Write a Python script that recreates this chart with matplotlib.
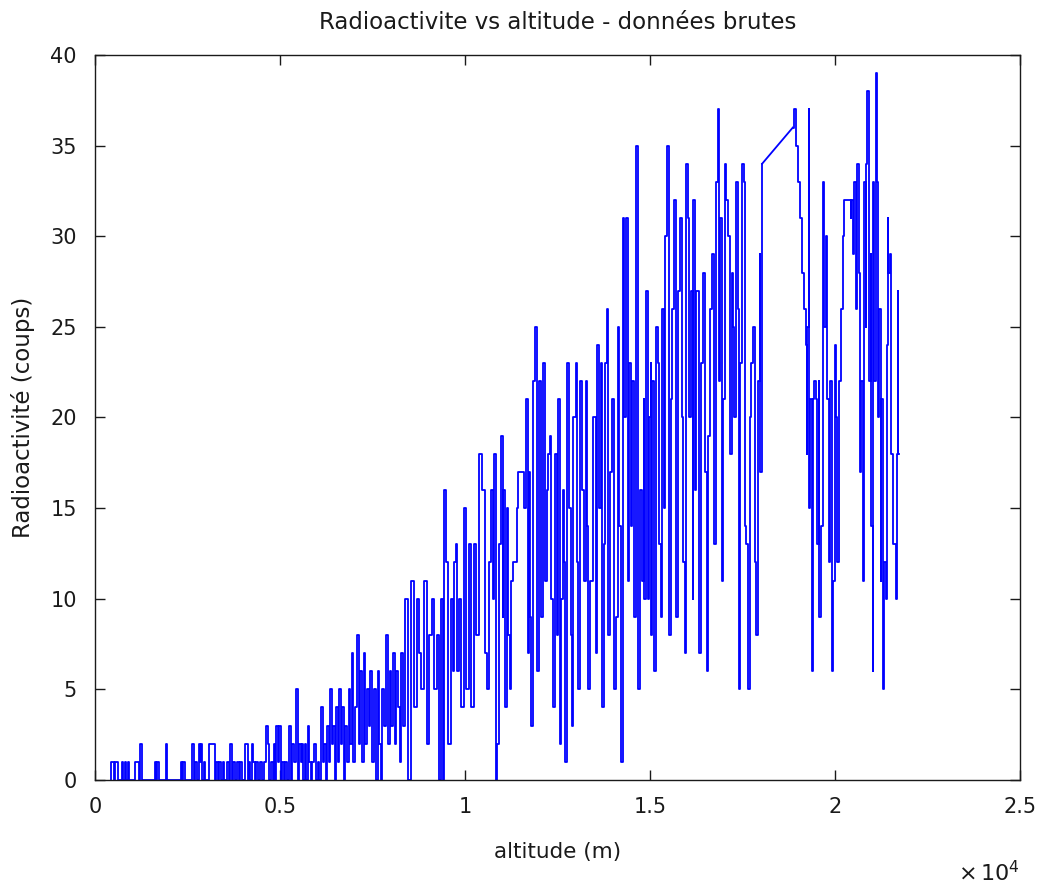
import matplotlib
matplotlib.use("Agg")
import matplotlib.pyplot as plt
from matplotlib.ticker import FuncFormatter, MultipleLocator

# Altitude (m) et comptage (coups), par tranches
alt_sol = [420, 450, 500, 540, 560, 600, 640, 700, 740, 780, 820, 860, 900, 940, 1000,
           1160, 1200, 1240, 1280, 1600, 1620, 1660, 1700, 1740, 1900, 1920, 1950, 2300,
           2330, 2370, 2400, 2440, 2620, 2650, 2700, 2730, 2780, 2820, 2860, 2880, 2920,
           2960, 3000, 3180, 3220, 3260, 3300, 3340, 3380, 3420, 3480, 3520, 3590, 3640,
           3680, 3720, 3760, 3820, 3860, 3900, 3960, 4000, 4110, 4150, 4180, 4220, 4260,
           4300, 4340, 4380, 4420, 4480, 4540, 4600, 4650, 4680, 4720, 4780, 4820, 4850,
           4880, 4920, 4960, 5000, 5030, 5080, 5120, 5160, 5200, 5270, 5300, 5350, 5400,
           5460, 5500, 5540, 5580, 5620, 5650, 5700, 5730, 5760, 5800, 5850, 5900, 5950,
           6000, 6040, 6090, 6140, 6180, 6220, 6260, 6300, 6340, 6380, 6420, 6460, 6500,
           6540, 6580, 6620, 6660, 6700, 6740]
coups_sol = [0, 1, 1, 0, 1, 1, 0, 0, 1, 0, 1, 0, 1, 0, 0,
             1, 0, 2, 0, 0, 1, 0, 1, 0, 0, 2, 0, 0,
             1, 0, 1, 0, 0, 2, 0, 1, 0, 2, 1, 2, 0,
             1, 0, 2, 2, 0, 1, 0, 1, 0, 1, 0, 1, 0,
             2, 0, 1, 0, 1, 0, 1, 0, 2, 0, 1, 0, 2,
             1, 0, 1, 0, 1, 0, 1, 3, 2, 0, 1, 0, 2,
             0, 3, 1, 3, 0, 1, 0, 1, 0, 3, 0, 2, 1,
             5, 0, 2, 1, 2, 0, 2, 0, 3, 1, 0, 1, 2,
             0, 1, 0, 4, 1, 2, 0, 3, 1, 5, 2, 3, 0,
             4, 1, 5, 2, 4, 0]

alt_bas = [6780, 6830, 6880, 6930, 6960, 7000, 7050, 7110, 7150, 7200, 7240, 7290, 7330,
           7380, 7420, 7460, 7510, 7560, 7620, 7660, 7700, 7740, 7790, 7840, 7900, 7940,
           7990, 8030, 8080, 8120, 8170, 8210, 8250, 8300, 8340,
           8430, 8490, 8590, 8680, 8730, 8780, 8860, 8920, 9000, 9050, 9140, 9190, 9270,
           9320, 9380, 9410, 9460, 9510, 9590, 9650, 9700, 9730, 9780, 9810, 9860, 9950,
           10000, 10050, 10140, 10190, 10270, 10320, 10410, 10490, 10570, 10620, 10680,
           10730, 10780, 10810, 10860, 10890, 10950, 11000, 11030, 11050, 11110, 11160,
           11190, 11220, 11270, 11320, 11380, 11410, 11430, 11510, 11590, 11620]
coups_bas = [3, 1, 5, 2, 7, 1, 4, 8, 2, 6, 1, 7, 2,
             5, 3, 6, 1, 5, 0, 6, 2, 0, 5, 3, 8, 2,
             6, 3, 7, 2, 6, 4, 1, 7, 3,
             10, 0, 11, 4, 10, 7, 5, 11, 2, 8, 10, 5, 8,
             0, 10, 0, 16, 12, 2, 10, 6, 12, 13, 6, 10, 4,
             15, 5, 13, 4, 13, 8, 18, 16, 7, 5, 12,
             16, 10, 18, 0, 2, 13, 19, 9, 16, 4, 15,
             8, 5, 11, 12, 12, 15, 17, 17, 17, 15]

alt_montee = [11680, 11700, 11760, 11780, 11810, 11840, 11920, 11970, 12030, 12080, 12160,
              12190, 12220, 12270, 12320, 12350, 12380, 12460, 12490, 12540, 12570, 12620,
              12650, 12700, 12730, 12780, 12840, 12870, 12890, 12950, 13030, 13050, 13080,
              13160, 13190, 13240, 13300, 13320, 13350, 13430, 13490, 13570, 13590, 13650,
              13700, 13730, 13760, 13810, 13840, 13890, 13970, 14000, 14030, 14110, 14160,
              14190, 14240, 14300, 14320, 14380, 14410, 14460, 14510, 14540, 14590, 14650,
              14700, 14760, 14810, 14840, 14860, 14920, 14950, 15000, 15030, 15050, 15080,
              15140, 15190, 15240, 15270, 15320, 15350, 15380, 15430, 15490, 15510, 15540,
              15570, 15620, 15680, 15700, 15730, 15780, 15840, 15890, 15920, 15950, 16000,
              16050, 16080, 16140, 16160, 16190, 16240, 16270, 16320, 16350, 16410, 16460,
              16510, 16570, 16590, 16650, 16700, 16760, 16810, 16860, 16890, 16920, 16970,
              17000, 17050, 17080, 17140, 17190, 17220, 17240, 17300, 17350, 17380, 17430,
              17460, 17510, 17570, 17590, 17620, 17680, 17700, 17760, 17810, 17840, 17890,
              17950, 17970, 18000, 18030]
coups_montee = [21, 7, 17, 9, 3, 22, 25, 6, 22, 9, 23,
                11, 16, 18, 19, 10, 4, 18, 8, 21, 2, 10,
                16, 12, 1, 23, 15, 8, 3, 20, 23, 12, 5,
                22, 16, 11, 22, 14, 5, 11, 20, 7, 24, 15,
                23, 4, 13, 23, 26, 8, 17, 21, 5, 9, 25,
                14, 1, 31, 20, 31, 11, 23, 14, 22, 9, 35,
                5, 16, 11, 21, 10, 27, 10, 20, 23, 8, 22,
                6, 25, 23, 13, 9, 26, 15, 30, 35, 18, 8,
                21, 26, 32, 18, 9, 27, 31, 20, 12, 7, 34,
                31, 20, 27, 10, 32, 16, 27, 27, 7, 23, 28,
                17, 6, 19, 26, 29, 13, 33, 37, 22, 31, 11,
                21, 34, 32, 30, 18, 28, 25, 20, 33, 26, 5,
                23, 34, 33, 14, 13, 5, 20, 23, 25, 12, 8,
                22, 29, 17, 34]

alt_sommet = [18860, 18920, 18970, 19030, 19080, 19140, 19190, 19220, 19240, 19270, 19300,
              19320, 19350, 19380, 19410, 19460, 19510, 19540, 19570, 19590, 19650, 19700,
              19730, 19760, 19780, 19810, 19860, 19890, 19920, 19970, 20030, 20050, 20080,
              20140, 20190, 20240, 20270, 20320, 20410, 20430, 20460, 20490, 20540, 20590,
              20620, 20650, 20680, 20730, 20760, 20810, 20840, 20860, 20890, 20950, 20970,
              21000, 21030, 21050, 21080, 21110, 21140, 21160, 21220, 21240, 21270, 21300,
              21350, 21380, 21410, 21430, 21460, 21490, 21510, 21540, 21590, 21620, 21650,
              21680, 21700, 21730]
coups_sommet = [36, 37, 35, 33, 31, 28, 26, 24, 18, 25, 37,
                15, 21, 6, 21, 22, 21, 13, 22, 9, 14, 33,
                25, 30, 26, 21, 12, 22, 6, 11, 24, 20, 12,
                22, 26, 30, 32, 32, 32, 31, 32, 29, 33, 26,
                34, 28, 17, 22, 11, 33, 25, 34, 38, 22, 29,
                14, 6, 33, 22, 39, 33, 20, 26, 11, 21, 5,
                12, 10, 24, 31, 28, 29, 19, 18, 13, 13, 10,
                18, 27, 18]

altitude_montee = alt_sol + alt_bas + alt_montee
coups_montee_tot = coups_sol + coups_bas + coups_montee

plt.rcParams['font.family'] = ['DejaVu Sans']

fig = plt.figure(figsize=(10.45, 8.9), dpi=100)
ax = fig.add_axes([0.0909, 0.1236, 0.8852, 0.8146])

bleu = '#0000ff'
# Mesures denses : tracé en escalier, comme les données brutes
ax.plot(altitude_montee, coups_montee_tot, color=bleu, linewidth=1.3, drawstyle='steps-mid')
ax.plot(alt_sommet, coups_sommet, color=bleu, linewidth=1.3, drawstyle='steps-mid')
# trou dans les mesures : segment droit
ax.plot([alt_montee[-1], alt_sommet[0]], [coups_montee[-1], coups_sommet[0]],
        color=bleu, linewidth=1.3)

ax.set_xlim(0, 25000)
ax.set_ylim(0, 40)
ax.xaxis.set_major_locator(MultipleLocator(5000))
ax.yaxis.set_major_locator(MultipleLocator(5))
ax.xaxis.set_major_formatter(FuncFormatter(lambda v, p: f"{v / 1e4:g}"))
ax.tick_params(direction='in', length=7, width=1, top=True, right=True,
               labelsize=15, colors='#1a1a1a')
ax.tick_params(axis='x', pad=12)
ax.tick_params(axis='y', pad=13)
for s in ax.spines.values():
    s.set_linewidth(1)
    s.set_color('#1a1a1a')

ax.set_title("Radioactivite vs altitude - données brutes", fontsize=16.5, pad=19, color='#1a1a1a')
ax.set_xlabel("altitude (m)", fontsize=15.5, color='#1a1a1a', labelpad=18)
ax.set_ylabel("Radioactivité (coups)", fontsize=16.5, color='#1a1a1a', labelpad=11)
ax.text(1.0, -0.11, r"$\times\,10^{4}$", transform=ax.transAxes, ha='right', va='top',
        fontsize=16, color='#1a1a1a')

fig.savefig("out.png", dpi=100)
